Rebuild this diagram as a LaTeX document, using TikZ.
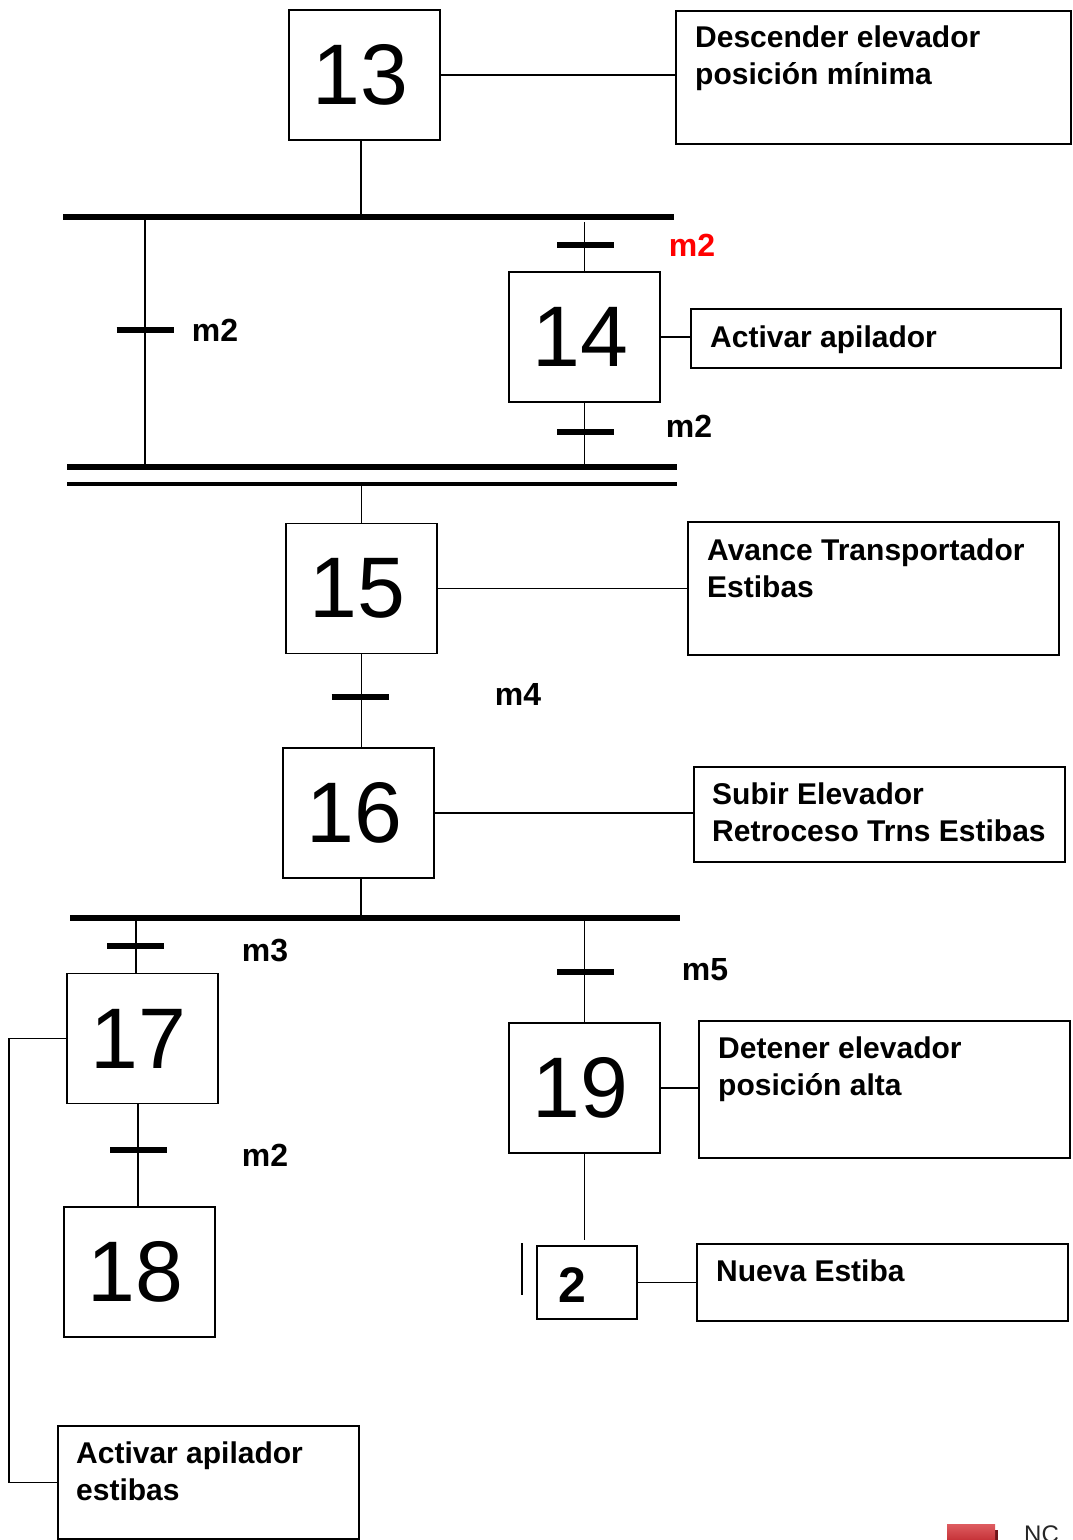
\documentclass[tikz,border=0pt]{standalone}
\usepackage{fontspec}
\setmainfont{Liberation Sans}
\definecolor{btnlight}{RGB}{222,92,96}
\definecolor{btndark}{RGB}{190,38,44}
\definecolor{btnshadow}{RGB}{110,20,25}
\definecolor{condred}{RGB}{255,0,0}
\begin{document}
\begin{tikzpicture}[x=1pt,y=-1pt,
  line/.style={line width=1.8pt},
  stepbox/.style={draw, line width=1.8pt, minimum width=151pt, minimum height=130pt, inner sep=0pt, font=\fontsize{86}{86}\selectfont},
  actbox/.style={draw, line width=1.8pt, anchor=north west, inner sep=0pt},
  acttext/.style={anchor=north west, inner sep=0pt, align=left, font=\bfseries\fontsize{30}{37}\selectfont},
  trbar/.style={line width=6pt},
  bigbar/.style={line width=6.5pt},
  cond/.style={font=\bfseries\fontsize{32}{32}\selectfont, inner sep=0pt}
]
\useasboundingbox (0,0) rectangle (1072,1540);
\clip (0,0) rectangle (1072,1540);

% steps
\node[stepbox] (s13) at (364.5,75) {\hspace*{-8pt}13};
\node[stepbox] (s14) at (584.5,337) {\hspace*{-8pt}14};
\node[stepbox] (s15) at (361.5,588.5) {\hspace*{-8pt}15};
\node[stepbox] (s16) at (358.5,813) {\hspace*{-8pt}16};
\node[stepbox] (s17) at (142.5,1038.5) {\hspace*{-8pt}17};
\node[stepbox] (s18) at (139.5,1272) {\hspace*{-8pt}18};
\node[stepbox] (s19) at (584.5,1088) {\hspace*{-8pt}19};
\node[draw, line width=1.8pt, minimum width=100pt, minimum height=73pt, inner sep=0pt] (s2) at (587,1282.5) {};
\node[font=\bfseries\fontsize{50}{50}\selectfont, inner sep=0pt] (n2) at (572,1285) {2};

% actions
\node[actbox, minimum width=395pt, minimum height=133pt] (a13) at (675,10) {};
\node[acttext] (t13) at (695,26) {Descender elevador\\posición mínima};
\node[actbox, minimum width=370pt, minimum height=59pt] (a14) at (690,308) {};
\node[acttext] (t14) at (710,326) {Activar apilador};
\node[actbox, minimum width=371pt, minimum height=133pt] (a15) at (687,521) {};
\node[acttext] (t15) at (707,539) {Avance Transportador\\Estibas};
\node[actbox, minimum width=371pt, minimum height=95pt] (a16) at (693,766) {};
\node[acttext] (t16) at (712,783) {Subir Elevador\\Retroceso Trns Estibas};
\node[actbox, minimum width=371pt, minimum height=137pt] (a19) at (698,1020) {};
\node[acttext] (t19) at (718,1037) {Detener elevador\\posición alta};
\node[actbox, minimum width=371pt, minimum height=77pt] (a2) at (696,1243) {};
\node[acttext] (t2) at (716,1260) {Nueva Estiba};
\node[actbox, minimum width=301pt, minimum height=113pt] (a17) at (57,1425) {};
\node[acttext] (t17) at (76,1442) {Activar apilador\\estibas};

% action links
\draw[line] (s13.east) -- (s13.east -| a13.west);
\draw[line] (s14.east) -- (s14.east -| a14.west);
\draw[line] (s15.east) -- (s15.east -| a15.west);
\draw[line] (s16.east) -- (s16.east -| a16.west);
\draw[line] (s19.east) -- (s19.east -| a19.west);
\draw[line] (s2.east) -- (s2.east -| a2.west);
\draw[line] (s17.west) -- ++(-57,0) |- (a17.west);

% bars
\coordinate (b1l) at (63,217);  \coordinate (b1r) at (674,217);
\coordinate (b2l) at (67,467);  \coordinate (b2r) at (677,467);
\coordinate (b3l) at (67,484);  \coordinate (b3r) at (677,484);
\coordinate (b4l) at (70,918);  \coordinate (b4r) at (680,918);
\draw[bigbar] (b1l) -- (b1r);
\draw[bigbar] (b2l) -- (b2r);
\draw[line width=3.5pt] (b3l) -- (b3r);
\draw[bigbar] (b4l) -- (b4r);

% vertical links
\draw[line] ([xshift=-3.5pt]s13.south) -- ([xshift=-3.5pt]s13.south |- b1l);
\coordinate (jl1) at (145,217); \coordinate (jl2) at (145,467);
\draw[line] (jl1) -- (jl2);
\draw[line] ([yshift=-5pt]s14.north |- b1l) -- (s14.north);
\draw[line] (s14.south) -- (s14.south |- b2l);
\draw[line] (s15.north |- b3l) -- (s15.north);
\draw[line] (s15.south) -- (s15.south |- s16.north);
\draw[line] ([xshift=2.5pt]s16.south) -- ([xshift=2.5pt]s16.south |- b4l);
\coordinate (v17) at (136,918);
\draw[line] (v17) -- (v17 |- s17.north);
\draw[line] ([xshift=-4.5pt]s17.south) -- ([xshift=-4.5pt]s17.south |- s18.north);
\draw[line] (s19.north |- b4l) -- (s19.north);
\draw[line] (s19.south) -- ([yshift=5pt]s19.south |- s2.north);
\coordinate (sm1) at (522,1243); \coordinate (sm2) at (522,1295);
\draw[line] (sm1) -- (sm2);

% transitions
\coordinate (tr1) at (145,330);
\coordinate (tr2) at (585.5,245);
\coordinate (tr3) at (585.5,432);
\coordinate (tr4) at (360,697);
\coordinate (tr5) at (135.5,946);
\coordinate (tr6) at (138.5,1150);
\coordinate (tr7) at (585.5,972);
\foreach \t in {tr1,tr2,tr3,tr4,tr5,tr6,tr7}
  \draw[trbar] ([xshift=-28.5pt]\t) -- ([xshift=28.5pt]\t);

% conditions
\node[cond] (c1) at (215,330) {m2};
\node[cond, text=condred] (c2) at (692,245) {m2};
\node[cond] (c3) at (689,426) {m2};
\node[cond] (c4) at (518,694) {m4};
\node[cond] (c5) at (265,950) {m3};
\node[cond] (c6) at (265,1155) {m2};
\node[cond] (c7) at (705,970) {m5};

% bottom-right fragment
\fill[btnshadow] (994,1530) rectangle (998,1545);
\shade[top color=btnlight, bottom color=btndark] (947,1524) rectangle (995,1545);
\node[anchor=north west, inner sep=0pt, font=\fontsize{24}{24}\selectfont, text=black!85] (nc) at (1024,1526) {NC};
\end{tikzpicture}
\end{document}
